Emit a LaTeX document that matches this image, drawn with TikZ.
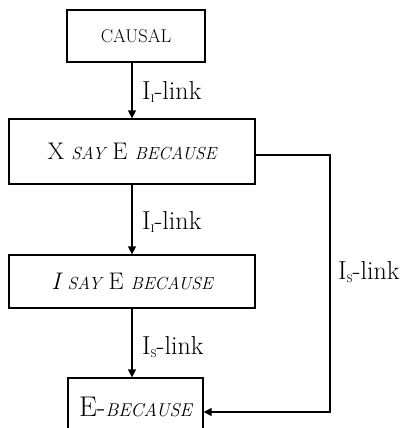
\documentclass[tikz,border=0pt]{standalone}
\usetikzlibrary{arrows.meta}
\newcommand\bigtxt{\fontsize{24}{28}\selectfont}
\newcommand\sctxt{\fontsize{17.5}{20}\selectfont}
\newcommand\lbltxt{\fontsize{26}{30}\selectfont}
\newcommand\subtxt[1]{\raisebox{-3pt}{\fontsize{11}{11}\selectfont #1}}
\tikzset{
  box/.style={draw, line width=1.2pt, inner sep=0pt},
  conn/.style={line width=1.2pt, -{Triangle[length=8pt,width=8pt]}},
  lbl/.style={anchor=west, inner sep=0pt, font=\lbltxt}
}
\begin{document}
\begin{tikzpicture}[x=1pt,y=-1pt]
\useasboundingbox (0,0) rectangle (402,428);
\clip (0,0) rectangle (402,428);
\node[box, minimum width=138pt, minimum height=52pt] (b1) at (136,36) {\fontsize{18.5}{22}\selectfont CAUSAL};
\node[box, minimum width=246pt, minimum height=65pt] (b2) at (132,151.5) {\bigtxt X {\sctxt\itshape SAY} E {\sctxt\itshape BECAUSE}};
\node[box, minimum width=246pt, minimum height=53pt] (b3) at (132,281.5) {\bigtxt {\itshape I} {\sctxt\itshape SAY} E {\sctxt\itshape BECAUSE}};
\node[box, minimum width=135pt, minimum height=58pt] (b4) at (135.5,407) {\fontsize{28.5}{32}\selectfont E-{\fontsize{18.5}{22}\selectfont\itshape BECAUSE}};
\coordinate (r1) at (330,155);
\coordinate (r2) at (330,412);
\draw[conn] (b1.south -| b2.north) -- (b2.north);
\draw[conn] (b2.south) -- (b3.north);
\draw[conn] (b3.south) -- (b3.south |- b4.north);
\draw[conn] (b2.east |- r1) -- (r1) -- (r2) -- (b4.east |- r2);
\node[lbl] (l1) at (142,92) {I\subtxt{I}-link};
\node[lbl] (l2) at (142,222) {I\subtxt{I}-link};
\node[lbl] (l3) at (142,347) {I\subtxt{S}-link};
\node[lbl] (l4) at (338,272) {I\subtxt{S}-link};
\end{tikzpicture}
\end{document}
